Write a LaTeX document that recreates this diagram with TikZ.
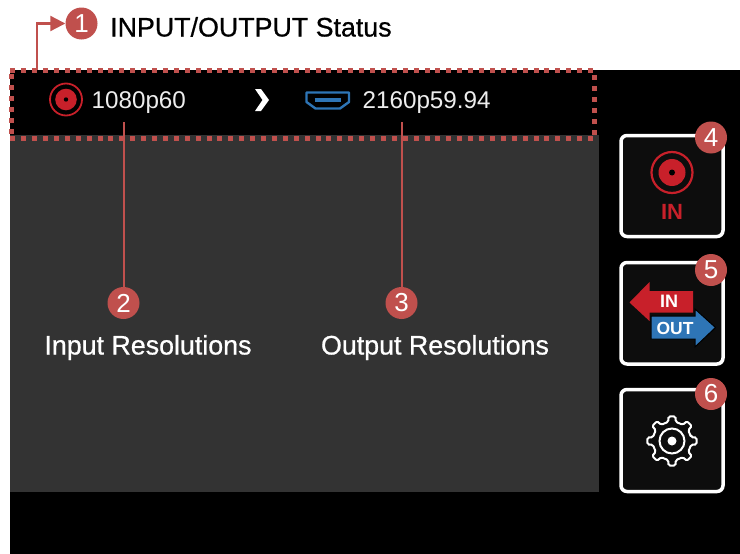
\documentclass[tikz,border=0pt]{standalone}
\usepackage{fontspec}
\setmainfont{Liberation Sans}
\newfontfamily\heavyfont[FakeBold=0.7]{Liberation Sans}
\usetikzlibrary{arrows.meta}
\definecolor{badgered}{HTML}{C0504D}
\definecolor{panelgrey}{HTML}{333333}
\definecolor{btnfill}{HTML}{0D0D0D}
\definecolor{iconred}{HTML}{C8202A}
\definecolor{iconblue}{HTML}{2E75B6}
\tikzset{
  badge/.style={circle,fill=badgered,minimum size=32pt,inner sep=0pt,text=white,font=\fontsize{26}{26}\selectfont},
  btn/.style={draw=white,line width=3.5pt,fill=btnfill,rounded corners=6pt},
  leader/.style={draw=badgered,line width=2pt},
  readout/.style={text=white!93!black,font=\fontsize{24.2}{24}\selectfont,inner sep=0pt,anchor=base west},
  caption/.style={text=white,font=\heavyfont\fontsize{26.8}{27}\selectfont,inner sep=0pt,anchor=base},
  framedot/.style={fill=badgered},
}
\begin{document}
\begin{tikzpicture}[x=1pt,y=-1pt]
\useasboundingbox (0,0) rectangle (740,554);
% background
\fill[white] (0,0) rectangle (740,554);
\fill[black] (10,70) rectangle (740,554);
\fill[panelgrey] (10,134.5) rectangle (598.5,492);
% status readouts
\node[readout] (inres) at (91.5,108) {1080p60};
\node[readout] (outres) at (362.5,108) {2160p59.94};
% input icon
\draw[iconred,line width=1.8pt] (66,99.5) circle (16);
\fill[iconred] (66,99.5) circle (10.8);
\fill[black] (66,99.5) circle (2.2);
% chevron
\fill[white] (255,89) -- (261,89) -- (269,100) -- (261,111) -- (255,111) -- (262.5,100) -- cycle;
% hdmi icon
\draw[iconblue,line width=2.4pt,line join=round] (306.5,92.5) -- (349,92.5) -- (349,102) -- (340,108.5) -- (315.5,108.5) -- (306.5,102) -- cycle;
\draw[iconblue,line width=3.4pt] (314.5,100) -- (340.5,100);
% badges and leaders
\node[badge] (b1) at (81.5,23.5) {1};
\node[badge] (b2) at (123.5,303) {2};
\node[badge] (b3) at (401.5,303) {3};
\coordinate (barstart) at (37,70);
\coordinate (leadA) at (124,122);
\coordinate (leadB) at (402,122);
\draw[leader,line width=2.2pt,-{Triangle[length=15pt,width=15pt]}] (barstart) |- (b1.west);
\draw[leader] (leadA) -- (leadA |- b2.north);
\draw[leader] (leadB) -- (leadB |- b3.north);
% status dotted frame: square dots
\foreach \k in {0,...,53} {
  \pgfmathsetmacro{\dx}{12.8+10.9*\k}
  \fill[framedot] (\dx-2.5,67.7) rectangle (\dx+2.5,72.7);
  \fill[framedot] (\dx-2.5,135.7) rectangle (\dx+2.5,140.7);
}
\foreach \k in {0,...,5} {
  \pgfmathsetmacro{\dy}{76+11*\k}
  \fill[framedot] (8.5,\dy-2.5) rectangle (13.5,\dy+2.5);
  \fill[framedot] (591.7,\dy-1.5) rectangle (596.7,\dy+3.5);
}
% captions
\node[anchor=base west,inner sep=0pt,font=\heavyfont\fontsize{26.8}{27}\selectfont] (title) at (110,36.5) {INPUT/OUTPUT Status};
\node[caption] (capin) at (148,354.5) {Input Resolutions};
\node[caption] (capout) at (435,354.5) {Output Resolutions};
% button 4
\draw[btn] (621,135.5) rectangle (723,236.5);
\draw[iconred,line width=2.2pt] (672,172.5) circle (20.5);
\fill[iconred] (672,172.5) circle (13.5);
\fill[black] (672,172.5) circle (3);
\node[text=iconred,font=\bfseries\fontsize{22}{22}\selectfont,inner sep=0pt] (inlabel) at (672,212) {IN};
% button 5
\draw[btn] (621,262.5) rectangle (723,364);
\fill[iconred] (629.5,302.5) -- (649.5,282) -- (649.5,291) -- (693,291) -- (693,312.5) -- (649.5,312.5) -- (649.5,321) -- cycle;
\fill[iconblue,draw=black,line width=1pt] (715.5,327.5) -- (695,309) -- (695,316) -- (651,316) -- (651,339) -- (695,339) -- (695,347) -- cycle;
\node[text=white,font=\bfseries\fontsize{18}{18}\selectfont,inner sep=0pt] (arrowin) at (669,301.5) {IN};
\node[text=white,font=\bfseries\fontsize{17.5}{18}\selectfont,inner sep=0pt] (arrowout) at (675,328) {OUT};
% button 6
\draw[btn] (621,389.5) rectangle (723,491.5);
\begin{scope}[shift={(672,441)}]
\draw[white,line width=2pt,rounded corners=1.5pt]
  (-11.25:19.5)
  \foreach \a in {0,45,...,315} {
    -- (\a-11.25:19.5) -- (\a-8:24.8) -- (\a+8:24.8) -- (\a+11.25:19.5)
  } -- cycle;
\draw[white,line width=2pt] (0,0) circle (12.5);
\fill[white] (0,0) circle (4.5);
\end{scope}
\node[badge] (b4) at (711,137.5) {4};
\node[badge] (b5) at (711,270) {5};
\node[badge] (b6) at (711,394) {6};
\end{tikzpicture}
\end{document}
